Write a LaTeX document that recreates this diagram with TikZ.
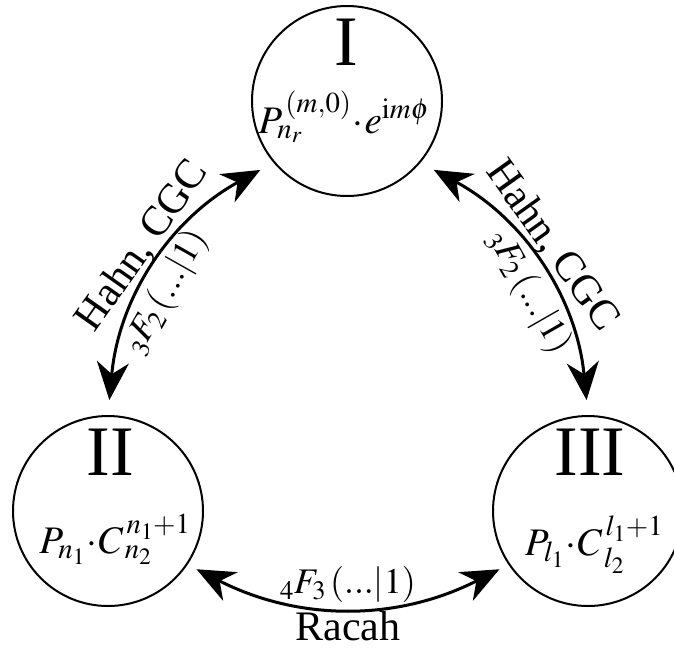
\documentclass[tikz,border=0pt]{standalone}
\usepackage{mathptmx}
\usepackage{fontspec}
\setmainfont{Liberation Serif}
\usetikzlibrary{arrows.meta}
\begin{document}
\begin{tikzpicture}[x=1pt,y=1pt,
  state/.style={circle,draw,line width=2pt,minimum size=190pt,inner sep=0pt},
  numeral/.style={anchor=base,font=\fontsize{71}{71}\selectfont,inner sep=0pt},
  formula/.style={anchor=base,font=\fontsize{39}{39}\selectfont,inner sep=0pt},
  link/.style={line width=3pt,{Stealth[length=38pt,width=32pt,inset=12pt]}-{Stealth[length=38pt,width=32pt,inset=12pt]},shorten <=15pt,shorten >=15pt},
  lbl/.style={font=\fontsize{42}{42}\selectfont,sloped,inner sep=3pt},
  flbl/.style={font=\fontsize{36}{36}\selectfont,sloped,inner sep=3pt}]
\useasboundingbox (0,0) rectangle (674,-651);
\node[state] (I) at (347,-101) {};
\node[state] (II) at (108,-511) {};
\node[state] (III) at (588,-511) {};
\node[numeral] (nI) at (346,-65) {I};
\node[formula] (fI) at (344,-133) {$P_{n_r}^{\,(m,0)}\!\cdot\! e^{\mathrm{i}m\phi}$};
\node[numeral] (nII) at (110,-475) {II};
\node[formula] (fII) at (115,-553) {$P_{n_1}\!\cdot\! C^{\,n_1+1}_{\,n_2}$};
\node[numeral] (nIII) at (590,-475) {III};
\node[formula] (fIII) at (594,-555) {$P_{l_1}\!\cdot\! C^{\,l_1+1}_{\,l_2}$};
\draw[link] (II.90) to[bend left=28]
  node[lbl,above,pos=0.53] (hL) {Hahn, CGC}
  node[flbl,below,pos=0.44] (gL) {${}_3F_2\,(...|1)$} (I.-140);
\draw[link] (I.-40) to[bend left=28]
  node[lbl,above,pos=0.47] (hR) {Hahn, CGC}
  node[flbl,below,pos=0.56] (gR) {${}_3F_2\,(...|1)$} (III.90);
\draw[link,shorten <=10pt,shorten >=10pt] (II.-34) to[bend right=27]
  node[lbl,below] (hB) {Racah}
  node[flbl,above] (gB) {${}_4F_3\,(...|1)$} (III.-146);
\end{tikzpicture}
\end{document}
